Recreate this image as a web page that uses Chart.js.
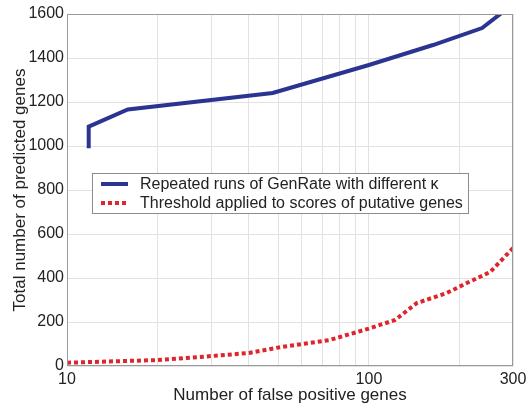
<!DOCTYPE html>
<html>
<head>
<meta charset="utf-8">
<script src="https://cdn.jsdelivr.net/npm/chart.js@4"></script>
<style>
  html, body { margin: 0; padding: 0; background: #fff; }
  #wrap { width: 529px; height: 409px; }
</style>
</head>
<body>
<div id="wrap"><canvas id="myChart" width="529" height="409"></canvas></div>
<script>
// data
var genrateX = [11.8, 11.8, 15.9, 48, 100, 163, 237, 300];
var genrateY = [990, 1088, 1166, 1241, 1368, 1459, 1536, 1645];
var thresholdX = [10, 20, 30, 40, 51, 74, 100, 122, 144, 181, 211, 252, 300];
var thresholdY = [15, 27, 45, 59, 86, 118, 170, 209, 286, 332, 377, 427, 536];
var xTicks = [10, 20, 30, 40, 50, 60, 70, 80, 90, 100, 200, 300];
var xLabels = [10, 100, 300];

var FONT = '"Liberation Sans", Arial, sans-serif';

function pts(xs, ys) {
    return xs.map(function (x, i) { return { x: x, y: ys[i] }; });
}

// box round the plot + legend inside the plot, matlab style
var boxLegend = {
    id: 'boxLegend',
    afterDatasetsDraw: function (chart) {
        var ctx = chart.ctx, a = chart.chartArea;
        ctx.save();
        ctx.strokeStyle = '#9a9a9a';
        ctx.lineWidth = 1;
        ctx.strokeRect(a.left + 0.5, a.top + 0.5, a.right - a.left - 1, a.bottom - a.top - 1);

        var lx = 92, ly = 173, lw = 376, lh = 40;
        ctx.fillStyle = '#fff';
        ctx.fillRect(lx, ly, lw, lh);
        ctx.strokeStyle = '#8c8c8c';
        ctx.strokeRect(lx + 0.5, ly + 0.5, lw, lh);
        ctx.font = '16px ' + FONT;
        ctx.textBaseline = 'middle';
        chart.data.datasets.forEach(function (ds, i) {
            var y = ly + 11 + i * 19;
            ctx.beginPath();
            ctx.strokeStyle = ds.borderColor;
            ctx.lineWidth = ds.borderWidth;
            ctx.setLineDash(ds.borderDash || []);
            ctx.moveTo(101, y);
            ctx.lineTo(128, y);
            ctx.stroke();
            ctx.setLineDash([]);
            ctx.fillStyle = '#222';
            ctx.fillText(ds.label, 140, y + 1);
        });
        ctx.restore();
    }
};

var ctx = document.getElementById('myChart').getContext('2d');
var myChart = new Chart(ctx, {
    type: 'line',
    data: {
        datasets: [
            {
                label: 'Repeated runs of GenRate with different \u03ba',
                data: pts(genrateX, genrateY),
                borderColor: '#2b3490',
                borderWidth: 4,
                pointRadius: 0,
                tension: 0
            },
            {
                label: 'Threshold applied to scores of putative genes',
                data: pts(thresholdX, thresholdY),
                borderColor: '#e0242c',
                borderWidth: 4,
                borderDash: [4, 3],
                pointRadius: 0,
                tension: 0
            }
        ]
    },
    options: {
        responsive: false,
        animation: false,
        layout: { padding: { top: 14, right: 16, left: 0, bottom: 0 } },
        plugins: { legend: { display: false }, tooltip: { enabled: false } },
        scales: {
            x: {
                type: 'logarithmic',
                min: 10,
                max: 300,
                afterBuildTicks: function (scale) {
                    scale.ticks = xTicks.map(function (v) { return { value: v }; });
                },
                afterFit: function (scale) {
                    scale.height = 43;
                    scale.paddingLeft = 0;
                    scale.paddingRight = 0;
                },
                ticks: {
                    autoSkip: false,
                    maxRotation: 0,
                    padding: 4,
                    color: '#222',
                    font: { family: FONT, size: 16 },
                    callback: function (v) { return xLabels.indexOf(v) >= 0 ? String(v) : ''; }
                },
                grid: { color: '#e2e2e2', drawTicks: false },
                border: { display: false },
                title: {
                    display: true,
                    text: 'Number of false positive genes',
                    color: '#222',
                    padding: { top: 0, bottom: 3 },
                    font: { family: FONT, size: 17 }
                }
            },
            y: {
                min: 0,
                max: 1600,
                afterFit: function (scale) {
                    scale.width = 67;
                    scale.paddingTop = 0;
                    scale.paddingBottom = 0;
                },
                ticks: {
                    stepSize: 200,
                    padding: 3,
                    color: '#222',
                    font: { family: FONT, size: 16 },
                    callback: function (v) { return String(v); }
                },
                grid: { color: '#e2e2e2', drawTicks: false },
                border: { display: false },
                title: {
                    display: true,
                    text: 'Total number of predicted genes',
                    color: '#222',
                    padding: { top: 10, bottom: 0 },
                    font: { family: FONT, size: 17 }
                }
            }
        }
    },
    plugins: [boxLegend]
});
</script>
</body>
</html>
